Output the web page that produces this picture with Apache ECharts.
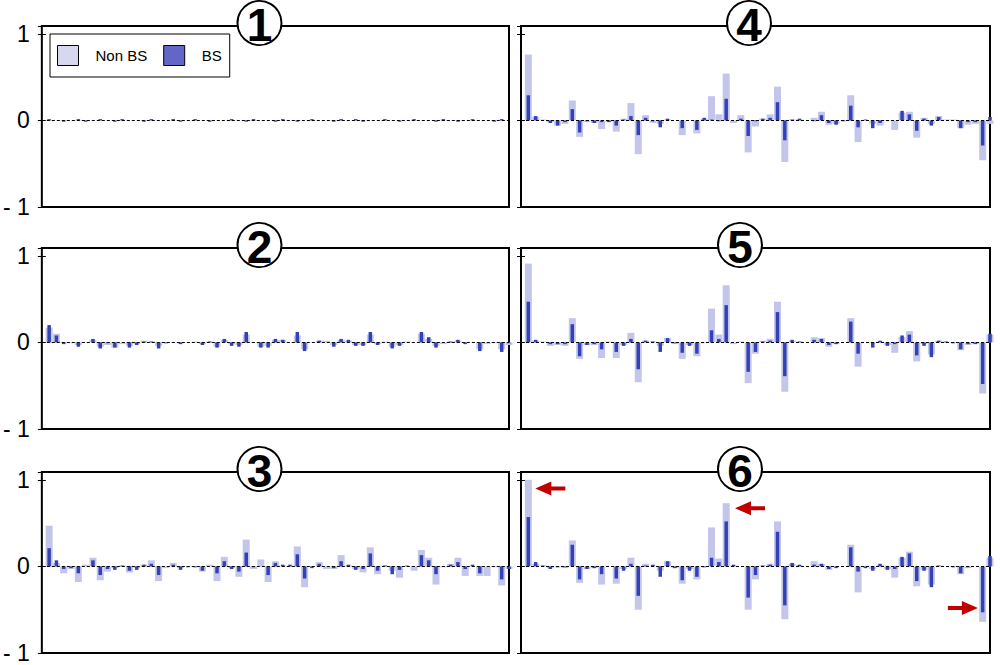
<!DOCTYPE html>
<html>
<head>
<meta charset="utf-8">
<script src="https://cdn.jsdelivr.net/npm/echarts@6/dist/echarts.min.js"></script>
<style>
  html, body { margin: 0; padding: 0; background: #fff; }
  #main { width: 1000px; height: 665px; }
</style>
</head>
<body>
<div id="main"></div>
<script>
// 每个面板 64 个条形, 浅色 = Non BS, 深色 = BS
const yTicks = [-1, 0, 1]
const panelLabels = ['1', '2', '3', '4', '5', '6']

const nonBs1 = [
  0.005, 0, -0.005, 0, 0.005, -0.005, 0, 0.005, 0, -0.005, 0.005, 0, 0, -0.005, 0.005, 0,
  0, 0.005, -0.005, 0, 0.005, 0, -0.005, 0, 0, 0.005, 0, -0.005, 0.005, 0, 0, -0.005,
  0.005, 0, -0.005, 0, 0.005, 0, 0, -0.005, 0.005, 0, 0.005, -0.005, 0, 0, 0.005, 0,
  -0.005, 0, 0.005, 0, 0, -0.005, 0.005, 0, -0.005, 0, 0.005, 0, 0, -0.005, 0.005, 0
]
const bs1 = [
  0.015, 0, -0.015, 0, 0.015, -0.015, 0, 0.015, 0, -0.015, 0.015, 0, 0, -0.015, 0.015, 0,
  0, 0.015, -0.015, 0, 0.015, 0, -0.015, 0, 0, 0.015, 0, -0.015, 0.015, 0, 0, -0.015,
  0.015, 0, -0.015, 0, 0.015, 0, 0, -0.015, 0.015, 0, 0.015, -0.015, 0, 0, 0.015, 0,
  -0.015, 0, 0.015, 0, 0, -0.015, 0.015, 0, -0.015, 0, 0.015, 0, 0, -0.015, 0.015, 0
]
const nonBs2 = [
  0.17, 0.10, -0.01, -0.01, -0.03, 0, 0.03, -0.05, -0.03, -0.06, -0.02, -0.04, -0.02, 0.02, 0.01, -0.04,
  -0.01, 0, -0.01, 0, 0.01, -0.02, 0.01, -0.05, 0.03, -0.02, -0.03, 0.09, 0, -0.05, -0.04, 0.03,
  0.03, 0, 0.08, -0.08, 0, 0.02, 0.02, -0.03, 0.03, 0.02, -0.03, -0.03, 0.09, -0.02, 0.01, -0.05,
  -0.03, 0.01, 0, 0.10, 0.04, -0.04, -0.02, 0.01, 0.02, -0.01, 0, -0.08, -0.02, -0.01, -0.08, -0.03
]
const bs2 = [
  0.20, 0.08, -0.02, 0, -0.05, 0, 0.04, -0.07, -0.01, -0.06, 0, -0.06, -0.03, 0.01, 0.01, -0.07,
  -0.01, 0, -0.02, 0, 0, -0.03, 0.01, -0.06, 0.04, -0.04, -0.05, 0.12, 0, -0.06, -0.06, 0.04,
  0.03, 0, 0.12, -0.10, 0, 0.02, 0, -0.05, 0.04, 0.03, -0.04, -0.04, 0.12, -0.03, 0, -0.07,
  -0.04, 0, 0, 0.12, 0.06, -0.06, 0, 0.01, 0.03, -0.02, 0, -0.10, 0, 0, -0.11, -0.01
]
const nonBs3 = [
  0.47, 0.04, -0.08, -0.03, -0.18, 0.02, 0.10, -0.16, -0.06, -0.02, 0.01, -0.07, -0.02, 0.02, 0.07, -0.17,
  -0.02, 0.04, -0.02, 0, -0.01, -0.06, 0.02, -0.17, 0.11, -0.02, -0.12, 0.31, -0.03, 0.08, -0.18, 0.06,
  0.01, 0.01, 0.23, -0.24, 0, 0.05, -0.03, -0.03, 0.13, 0.01, -0.03, -0.07, 0.22, -0.09, 0.01, -0.05,
  -0.13, 0, -0.05, 0.19, 0.10, -0.21, -0.01, 0.03, 0.10, -0.11, 0, -0.11, -0.11, -0.01, -0.22, -0.03
]
const bs3 = [
  0.21, 0.07, -0.03, -0.02, -0.08, 0, 0.07, -0.10, -0.03, -0.04, 0.01, -0.05, -0.04, 0.02, 0.03, -0.10,
  0, 0.02, -0.04, -0.01, -0.01, -0.05, 0, -0.08, 0.06, -0.03, -0.06, 0.16, -0.01, 0, -0.10, 0.04,
  0.02, 0.02, 0.14, -0.14, -0.02, 0.03, 0, -0.02, 0.06, 0.02, -0.04, -0.03, 0.15, -0.05, 0.01, -0.09,
  -0.04, 0.01, 0, 0.13, 0.07, -0.09, 0, 0.02, 0.05, -0.03, 0.02, -0.08, 0, 0, -0.15, -0.03
]
const nonBs4 = [
  0.76, 0.04, 0.01, -0.02, -0.06, -0.04, 0.23, -0.19, -0.02, -0.03, -0.10, -0.02, -0.13, 0.02, 0.20, -0.39,
  0.06, -0.03, -0.04, 0.01, 0, -0.17, 0, -0.15, 0.02, 0.28, 0.07, 0.54, -0.03, 0.06, -0.37, -0.07,
  0.02, 0.07, 0.39, -0.48, 0.01, 0.01, 0, 0.03, 0.10, -0.05, -0.04, -0.01, 0.29, -0.25, 0, -0.04,
  -0.06, -0.01, -0.11, 0.09, 0.10, -0.20, 0.03, -0.04, 0.05, 0.01, 0.01, -0.09, -0.05, -0.04, -0.46, -0.04
]
const bs4 = [
  0.29, 0.05, 0, -0.03, -0.06, -0.02, 0.13, -0.14, -0.01, -0.03, -0.02, -0.02, -0.06, 0.01, 0.05, -0.17,
  0.03, -0.01, -0.08, 0.02, 0, -0.09, 0, -0.11, 0.03, 0.01, -0.01, 0.25, 0, 0.02, -0.18, -0.01,
  0.02, 0.03, 0.21, -0.23, 0.01, 0.02, 0, -0.01, 0.06, -0.03, -0.05, -0.01, 0.17, -0.08, 0.01, -0.09,
  -0.03, 0, 0, 0.11, 0.07, -0.12, 0.02, -0.06, 0.04, 0, 0, -0.09, -0.02, -0.02, -0.29, 0.04
]
const nonBs5 = [
  0.91, 0.02, 0.01, -0.04, -0.03, -0.04, 0.28, -0.19, -0.03, -0.03, -0.18, 0.01, -0.18, -0.03, 0.11, -0.46,
  0.02, 0.01, -0.04, 0.05, -0.02, -0.19, -0.03, -0.16, -0.01, 0.39, 0.09, 0.66, -0.02, 0.01, -0.47, -0.13,
  0.02, 0.04, 0.47, -0.57, 0.02, 0.01, 0, 0.06, 0.05, -0.05, -0.02, 0, 0.28, -0.28, 0, -0.01,
  0.01, -0.03, -0.12, 0.06, 0.13, -0.22, -0.02, -0.14, 0.02, 0.01, -0.01, -0.09, -0.03, -0.02, -0.59, 0.09
]
const bs5 = [
  0.47, 0.03, 0, -0.02, -0.02, -0.02, 0.21, -0.16, -0.03, -0.02, -0.08, 0, -0.11, -0.04, 0.04, -0.31,
  0.02, 0.01, -0.11, 0.05, -0.01, -0.12, -0.04, -0.13, 0, 0.14, 0.04, 0.43, 0, 0, -0.34, -0.11,
  0.01, 0.02, 0.35, -0.39, 0.03, 0.01, 0, 0.03, 0.04, -0.03, -0.02, 0, 0.24, -0.13, 0, -0.06,
  0.02, -0.04, -0.02, 0.08, 0.09, -0.15, -0.04, -0.17, 0.02, 0.01, -0.01, -0.08, -0.02, -0.02, -0.48, 0.10
]
const nonBs6 = [
  1.00, 0.03, 0.01, -0.02, -0.01, -0.02, 0.30, -0.19, -0.03, -0.02, -0.21, 0, -0.20, -0.03, 0.10, -0.50,
  0.03, 0.01, -0.05, 0.06, -0.02, -0.20, -0.03, -0.15, -0.01, 0.45, 0.09, 0.73, 0.01, 0, -0.50, -0.15,
  0.01, 0.03, 0.52, -0.61, 0.03, 0.01, 0, 0.06, 0.03, -0.04, -0.01, 0, 0.25, -0.30, -0.01, -0.03,
  0.02, -0.03, -0.13, 0.10, 0.17, -0.23, -0.04, -0.21, 0.01, 0, -0.01, -0.09, -0.02, 0, -0.64, 0.10
]
const bs6 = [
  0.57, 0.05, 0.01, -0.03, -0.01, -0.01, 0.25, -0.15, -0.03, -0.02, -0.09, 0, -0.14, -0.05, 0.03, -0.34,
  0.01, 0.02, -0.12, 0.06, -0.02, -0.16, -0.05, -0.12, -0.01, 0.10, 0.05, 0.52, 0.02, 0, -0.36, -0.10,
  0.01, 0.02, 0.40, -0.45, 0.04, 0.02, 0, 0.02, 0.03, -0.03, -0.02, 0, 0.22, -0.06, -0.02, -0.05,
  0.03, -0.04, -0.03, 0.11, 0.15, -0.17, -0.05, -0.24, 0.01, 0, -0.01, -0.08, -0.01, 0, -0.53, 0.12
]

// 面板 6 中的红色箭头 (数据坐标, 箭头朝向)
const arrowX = [4.0, 31.25, 60.3]
const arrowY = [0.90, 0.67, -0.48]
const arrowDir = ['left', 'left', 'right']

const nonBsList = [nonBs1, nonBs2, nonBs3, nonBs4, nonBs5, nonBs6]
const bsList = [bs1, bs2, bs3, bs4, bs5, bs6]

const font = '"Liberation Sans", Arial, sans-serif'
const lightColor = '#c3c6ea'
const darkColor = '#3341b6'
const arrowPath = 'path://M0,7 L16,0 L16,5 L30,5 L30,9 L16,9 L16,14 Z'

// 面板位置
const colLeft = [40, 521]
const rowTop = [26, 248, 472]
const gridW = 469
const gridH = 181
const circleX = [259.5, 259.5, 259.5, 749, 740, 740]

let grids = [], xAxes = [], yAxes = [], series = [], graphics = []

for (let p = 0; p < 6; p++) {
  let col = p < 3 ? 0 : 1
  let row = p % 3
  grids.push({
    left: colLeft[col], top: rowTop[row], width: gridW, height: gridH,
    show: true, borderColor: '#000', borderWidth: 2, backgroundColor: '#fff'
  })
  // 两个 x 轴, 让两组条形各自居中
  for (let k = 0; k < 2; k++) {
    xAxes.push({ gridIndex: p, type: 'value', min: 0, max: nonBsList[p].length, show: false })
  }
  yAxes.push({
    gridIndex: p, type: 'value', min: -1, max: 1.09, interval: 1,
    axisLine: { show: false },
    axisTick: { show: true, inside: true, length: 4, lineStyle: { color: '#000' } },
    splitLine: { show: false },
    axisLabel: {
      show: col === 0, fontSize: 23, color: '#000', fontFamily: font, margin: 12,
      formatter: v => (yTicks.indexOf(v) < 0 ? '' : (v === -1 ? '- 1' : String(v)))
    }
  })
  yAxes.push({
    gridIndex: p, type: 'value', position: 'right', min: -1, max: 1.09, interval: 1,
    axisLine: { show: false },
    axisTick: { show: true, inside: true, length: 4, lineStyle: { color: '#000' } },
    splitLine: { show: false },
    axisLabel: { show: false }
  })

  series.push({
    name: 'Non BS', type: 'bar', xAxisIndex: p * 2, yAxisIndex: p * 2,
    barWidth: 7, itemStyle: { color: lightColor },
    data: nonBsList[p].map((v, i) => [i + 1, v]),
    silent: true, animation: false
  })
  let bsSeries = {
    name: 'BS', type: 'bar', xAxisIndex: p * 2 + 1, yAxisIndex: p * 2,
    barWidth: 3.5, itemStyle: { color: darkColor },
    data: bsList[p].map((v, i) => [i + 1, v]),
    silent: true, animation: false,
    markLine: {
      silent: true, symbol: 'none', animation: false,
      label: { show: false },
      lineStyle: { color: '#000', width: 1, type: [3, 2] },
      data: [{ yAxis: 0 }]
    }
  }
  if (p === 5) {
    bsSeries.markPoint = {
      silent: true, animation: false,
      label: { show: false },
      itemStyle: { color: '#c00000' },
      data: arrowX.map((x, i) => ({
        coord: [x, arrowY[i]],
        symbol: arrowPath,
        symbolSize: [30, 14],
        symbolKeepAspect: false,
        symbolRotate: arrowDir[i] === 'left' ? 0 : 180
      }))
    }
  }
  series.push(bsSeries)

  let cy = rowTop[row] - 3
  graphics.push({
    type: 'circle', shape: { cx: circleX[p], cy: cy, r: 22 },
    style: { fill: '#fff', stroke: '#000', lineWidth: 2 }, z: 100
  })
  graphics.push({
    type: 'text', x: circleX[p], y: cy + 2, z: 101,
    style: {
      text: panelLabels[p], font: 'bold 46px ' + font,
      align: 'center', verticalAlign: 'middle', fill: '#000'
    }
  })
}

let myChart = echarts.init(document.getElementById('main'), null, { renderer: 'svg' })

let option = {
  backgroundColor: '#fff',
  animation: false,
  grid: grids,
  xAxis: xAxes,
  yAxis: yAxes,
  legend: {
    left: 50, top: 34,
    icon: 'rect', itemWidth: 21, itemHeight: 20, itemGap: 16,
    padding: [11, 8, 11, 7],
    borderColor: '#000', borderWidth: 1, backgroundColor: '#fff',
    selectedMode: false,
    textStyle: { fontSize: 15, color: '#000', fontFamily: font, padding: [0, 0, 0, 12] },
    data: [
      { name: 'Non BS', itemStyle: { color: '#d6d8f0', borderColor: '#000', borderWidth: 1 } },
      { name: 'BS', itemStyle: { color: '#6266c6', borderColor: '#000', borderWidth: 1 } }
    ]
  },
  graphic: graphics,
  series: series
}

myChart.setOption(option)
</script>
</body>
</html>
